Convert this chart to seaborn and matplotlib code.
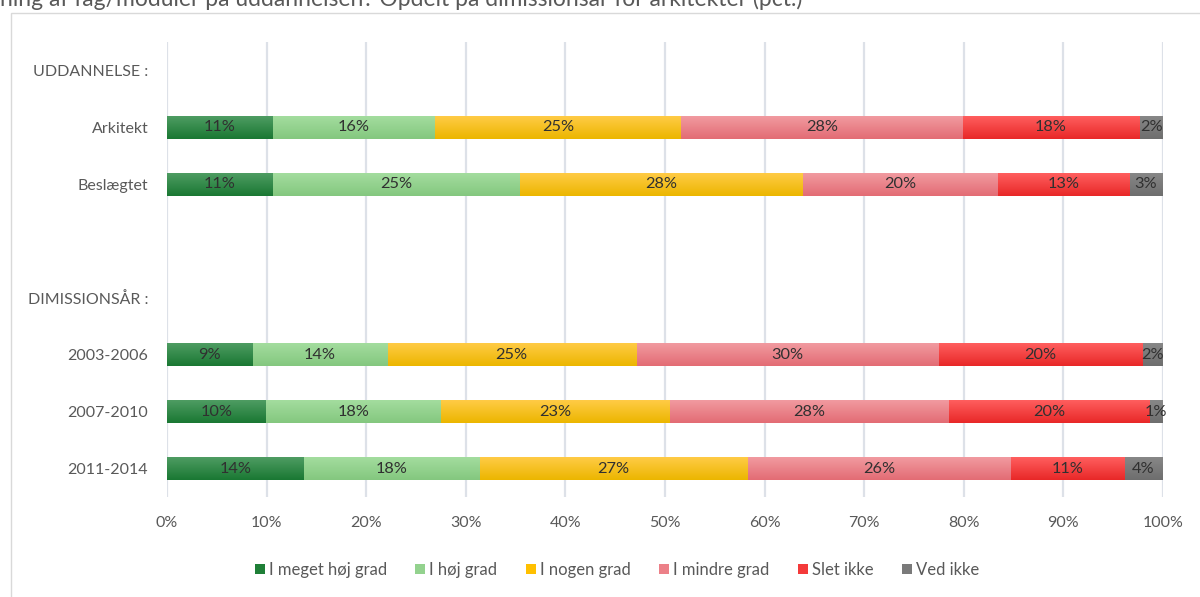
import numpy as np
import pandas as pd
import matplotlib
matplotlib.use("Agg")
import matplotlib.pyplot as plt
from matplotlib.patches import Patch, Rectangle
from matplotlib.colors import to_rgb
from matplotlib.ticker import FuncFormatter
import seaborn as sns

# ---- data -------------------------------------------------------------
title = "ning af fag/moduler på uddannelsen? Opdelt på dimissionsår for arkitekter (pct.)"
rows = ["UDDANNELSE :", "Arkitekt", "Beslægtet", " ", "DIMISSIONSÅR :",
        "2003-2006", "2007-2010", "2011-2014"]
groups = ["Arkitekt", "Beslægtet", "2003-2006", "2007-2010", "2011-2014"]
answers = ["I meget høj grad", "I høj grad", "I nogen grad",
           "I mindre grad", "Slet ikke", "Ved ikke"]

meget_hoej = [10.6, 10.6, 8.6, 9.9, 13.7]
hoej = [16.3, 24.8, 13.5, 17.6, 17.7]
nogen = [24.7, 28.4, 25.0, 23.0, 26.9]
mindre = [28.3, 19.6, 30.4, 28.0, 26.4]
slet_ikke = [17.7, 13.2, 20.4, 20.1, 11.4]
ved_ikke = [2.4, 3.4, 2.1, 1.4, 3.9]

xticks = [0, 10, 20, 30, 40, 50, 60, 70, 80, 90, 100]

# base colour plus lighter top / darker bottom for the bar shading
colors = ["#1F7F37", "#93D28E", "#FFC000", "#EC8088", "#F43A3A", "#7A7A7A"]
tops = ["#4E9C62", "#A3DD9E", "#FFCB45", "#F19AA0", "#FF5E5E", "#878787"]
bottoms = ["#1A7833", "#84C77F", "#ECB600", "#E36C74", "#E82828", "#6E6E6E"]

# ---- tidy frame with running totals -------------------------------------
series = [meget_hoej, hoej, nogen, mindre, slet_ikke, ved_ikke]
df = pd.DataFrame({
    "group": np.repeat([groups], len(answers), axis=0).ravel(),
    "answer": np.repeat(answers, len(groups)),
    "value": np.concatenate(series),
})
df["answer"] = pd.Categorical(df["answer"], categories=answers, ordered=True)
df = df.sort_values(["group", "answer"])
df["cum"] = df.groupby("group", observed=True)["value"].cumsum()

# ---- figure -----------------------------------------------------------
sns.set_theme(style="white")
plt.rcParams["font.family"] = ["Lato", "DejaVu Sans"]

fig = plt.figure(figsize=(12, 5.97), dpi=100)
ax = fig.add_axes([167 / 1200, 1 - 497 / 597, 996 / 1200, 455 / 597])

layer_patches = {}
for k in reversed(range(len(answers))):
    sub = df[df["answer"] == answers[k]]
    before = len(ax.patches)
    sns.barplot(data=sub, x="cum", y="group", order=rows, orient="h",
                color=colors[k], saturation=1, width=0.40, errorbar=None,
                linewidth=0, ax=ax)
    layer_patches[k] = ax.patches[before:]

xlim, ylim = (0, 100), ax.get_ylim()

# vertical shading on every bar, shorter running totals drawn on top
for k, patches in layer_patches.items():
    z = 2 + (len(answers) - k) * 0.1
    c_top, c_bot = np.array(to_rgb(tops[k])), np.array(to_rgb(bottoms[k]))
    t = np.linspace(0, 1, 32)[:, None, None]
    grad = (1 - t) * c_top + t * c_bot
    for p in patches:
        if not np.isfinite(p.get_width()) or p.get_width() == 0:
            continue
        x0, y0, w, h = p.get_x(), p.get_y(), p.get_width(), p.get_height()
        p.set_zorder(z)
        ax.imshow(grad, extent=(x0, x0 + w, y0 + h, y0), origin="upper",
                  aspect="auto", interpolation="bilinear", zorder=z + 0.05)

ax.set_xlim(*xlim)
ax.set_ylim(*ylim)

# value labels centred in each segment
for _, r in df.iterrows():
    yi = rows.index(r["group"])
    ax.text(r["cum"] - r["value"] / 2, yi, f"{r['value']:.0f}%",
            ha="center", va="center", fontsize=11.8, color="#303030", zorder=5)

# axes styling
ax.set_xticks(xticks)
ax.xaxis.set_major_formatter(FuncFormatter(lambda v, _: f"{v:.0f}%"))
ax.set_xlabel("")
ax.set_ylabel("")
ax.grid(axis="x", color="#DDE1E8", linewidth=1.6)
ax.grid(axis="y", visible=False)
ax.set_axisbelow(True)
for s in ax.spines.values():
    s.set_visible(False)
ax.tick_params(axis="y", length=0, pad=13.5, labelsize=11.5, labelcolor="#595959")
ax.tick_params(axis="x", length=0, pad=13.5, labelsize=11.5, labelcolor="#595959")

# legend
handles = [Patch(facecolor=c, edgecolor="none") for c in colors]
fig.legend(handles, answers, loc="center", bbox_to_anchor=(617 / 1200, 1 - 570 / 597),
           ncol=6, frameon=False, fontsize=12, labelcolor="#595959",
           handlelength=0.6, handleheight=0.6, handletextpad=0.25,
           columnspacing=1.7)

# chart frame and title
fig.patches.append(Rectangle((11 / 1200, -0.05), 1.2, 1 - 12.5 / 597 + 0.05,
                             transform=fig.transFigure, fill=False,
                             edgecolor="#D9D9D9", linewidth=1.0))
fig.text(0.0, 1 - 6.5 / 597, title, ha="left", va="baseline",
         fontsize=16.5, color="#595959")

fig.savefig("out.png", dpi=100)
